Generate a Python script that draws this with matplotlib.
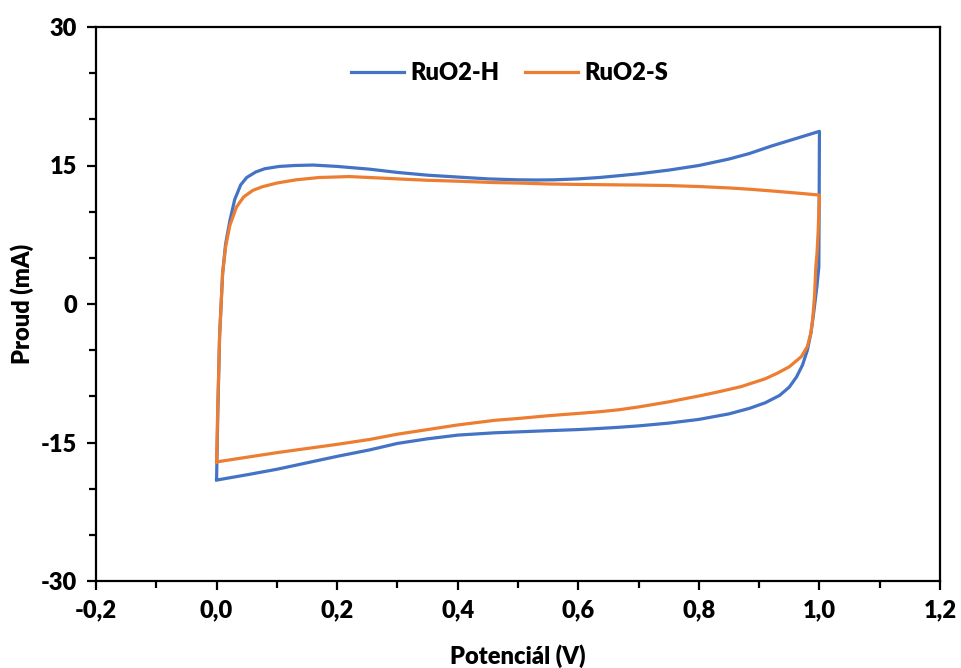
import matplotlib
matplotlib.use("Agg")
import matplotlib.pyplot as plt
from matplotlib.ticker import MultipleLocator, FuncFormatter

plt.rcParams['font.family'] = ['Lato', 'DejaVu Sans']
plt.rcParams['font.weight'] = 'heavy'

# RuO2-H: anodic branch (0 -> 1 V) then cathodic branch (1 -> 0 V)
h_x = [0.000, 0.002, 0.005, 0.010, 0.015, 0.022, 0.030, 0.040, 0.050, 0.065, 0.080, 0.104,
       0.130, 0.160, 0.200, 0.254, 0.300, 0.350, 0.400, 0.450, 0.500, 0.530, 0.560, 0.600,
       0.635, 0.668, 0.700, 0.750, 0.800, 0.850, 0.884, 0.920, 0.960, 1.000,
       0.9995, 0.999, 0.996, 0.993, 0.990, 0.986, 0.980, 0.972, 0.962, 0.950, 0.934, 0.910,
       0.884, 0.850, 0.800, 0.750, 0.700, 0.668, 0.635, 0.600, 0.550, 0.500, 0.461, 0.400,
       0.350, 0.300, 0.254, 0.200, 0.150, 0.100, 0.050, 0.000]
h_y = [-19.0, -12.0, -3.5, 3.3, 6.5, 9.0, 11.3, 12.9, 13.7, 14.3, 14.65, 14.9,
       15.0, 15.05, 14.9, 14.6, 14.25, 13.95, 13.75, 13.55, 13.45, 13.43, 13.45, 13.55,
       13.7, 13.9, 14.1, 14.5, 15.0, 15.7, 16.3, 17.1, 17.9, 18.7,
       10.0, 4.0, 2.0, 0.4, -1.2, -3.1, -5.0, -6.6, -7.9, -9.0, -9.9, -10.7,
       -11.3, -11.9, -12.5, -12.9, -13.2, -13.35, -13.48, -13.6, -13.72, -13.85, -13.95, -14.2,
       -14.6, -15.1, -15.8, -16.5, -17.2, -17.9, -18.5, -19.07]

# RuO2-S
s_x = [0.000, 0.002, 0.005, 0.010, 0.015, 0.022, 0.033, 0.045, 0.060, 0.076, 0.100, 0.132,
       0.170, 0.220, 0.254, 0.300, 0.350, 0.400, 0.461, 0.500, 0.550, 0.600, 0.668, 0.700,
       0.750, 0.801, 0.850, 0.884, 0.920, 0.960, 1.000,
       0.998, 0.996, 0.994, 0.992, 0.989, 0.986, 0.980, 0.970, 0.950, 0.930, 0.910, 0.870,
       0.830, 0.801, 0.750, 0.700, 0.668, 0.635, 0.600, 0.550, 0.500, 0.461, 0.400, 0.350,
       0.300, 0.254, 0.200, 0.100, 0.000]
s_y = [-17.1, -11.0, -3.5, 3.3, 6.2, 8.5, 10.5, 11.6, 12.3, 12.7, 13.1, 13.45,
       13.7, 13.8, 13.7, 13.55, 13.4, 13.3, 13.15, 13.1, 13.0, 12.95, 12.9, 12.88,
       12.83, 12.72, 12.57, 12.43, 12.25, 12.03, 11.8,
       8.0, 5.5, 4.0, 1.0, -1.5, -3.1, -4.6, -5.7, -6.8, -7.5, -8.1, -8.95,
       -9.55, -9.95, -10.6, -11.15, -11.45, -11.67, -11.85, -12.1, -12.4, -12.6, -13.1, -13.6,
       -14.1, -14.67, -15.2, -16.1, -17.1]

labels = ['RuO2-H', 'RuO2-S']
colors = ['#4472C4', '#ED7D31']

FS = 17

fig = plt.figure(figsize=(9.61, 6.68), dpi=100)
ax = fig.add_axes([96/961, 87/668, 844/961, 554/668])

ax.plot(h_x, h_y, color=colors[0], lw=2.3, label=labels[0], solid_joinstyle='round')
ax.plot(s_x, s_y, color=colors[1], lw=2.3, label=labels[1], solid_joinstyle='round')

ax.set_xlim(-0.2, 1.2)
ax.set_ylim(-30, 30)
ax.xaxis.set_major_locator(MultipleLocator(0.2))
ax.xaxis.set_minor_locator(MultipleLocator(0.1))
ax.yaxis.set_major_locator(MultipleLocator(15))
ax.yaxis.set_minor_locator(MultipleLocator(5))
ax.xaxis.set_major_formatter(FuncFormatter(lambda v, p: f"{v:.1f}".replace('.', ',').replace('-0,0', '0,0')))
ax.yaxis.set_major_formatter(FuncFormatter(lambda v, p: f"{v:.0f}"))

for sp in ax.spines.values():
    sp.set_linewidth(1.6)
ax.tick_params(which='major', direction='out', length=6.5, width=1.6, labelsize=FS, pad=7)
ax.tick_params(which='minor', direction='out', length=5, width=1.6)
for lab in ax.get_xticklabels() + ax.get_yticklabels():
    lab.set_fontweight('heavy')

ax.set_xlabel('Potenciál (V)', fontsize=FS, fontweight='heavy', labelpad=16)
ax.set_ylabel('Proud (mA)', fontsize=FS, fontweight='heavy', labelpad=5)

ax.legend(loc='center', bbox_to_anchor=(0.49, 0.917), ncol=2, frameon=False,
          handlelength=2.25, handletextpad=0.25, columnspacing=1.1,
          prop={'weight': 'heavy', 'size': FS})

fig.savefig('out.png', dpi=100)
